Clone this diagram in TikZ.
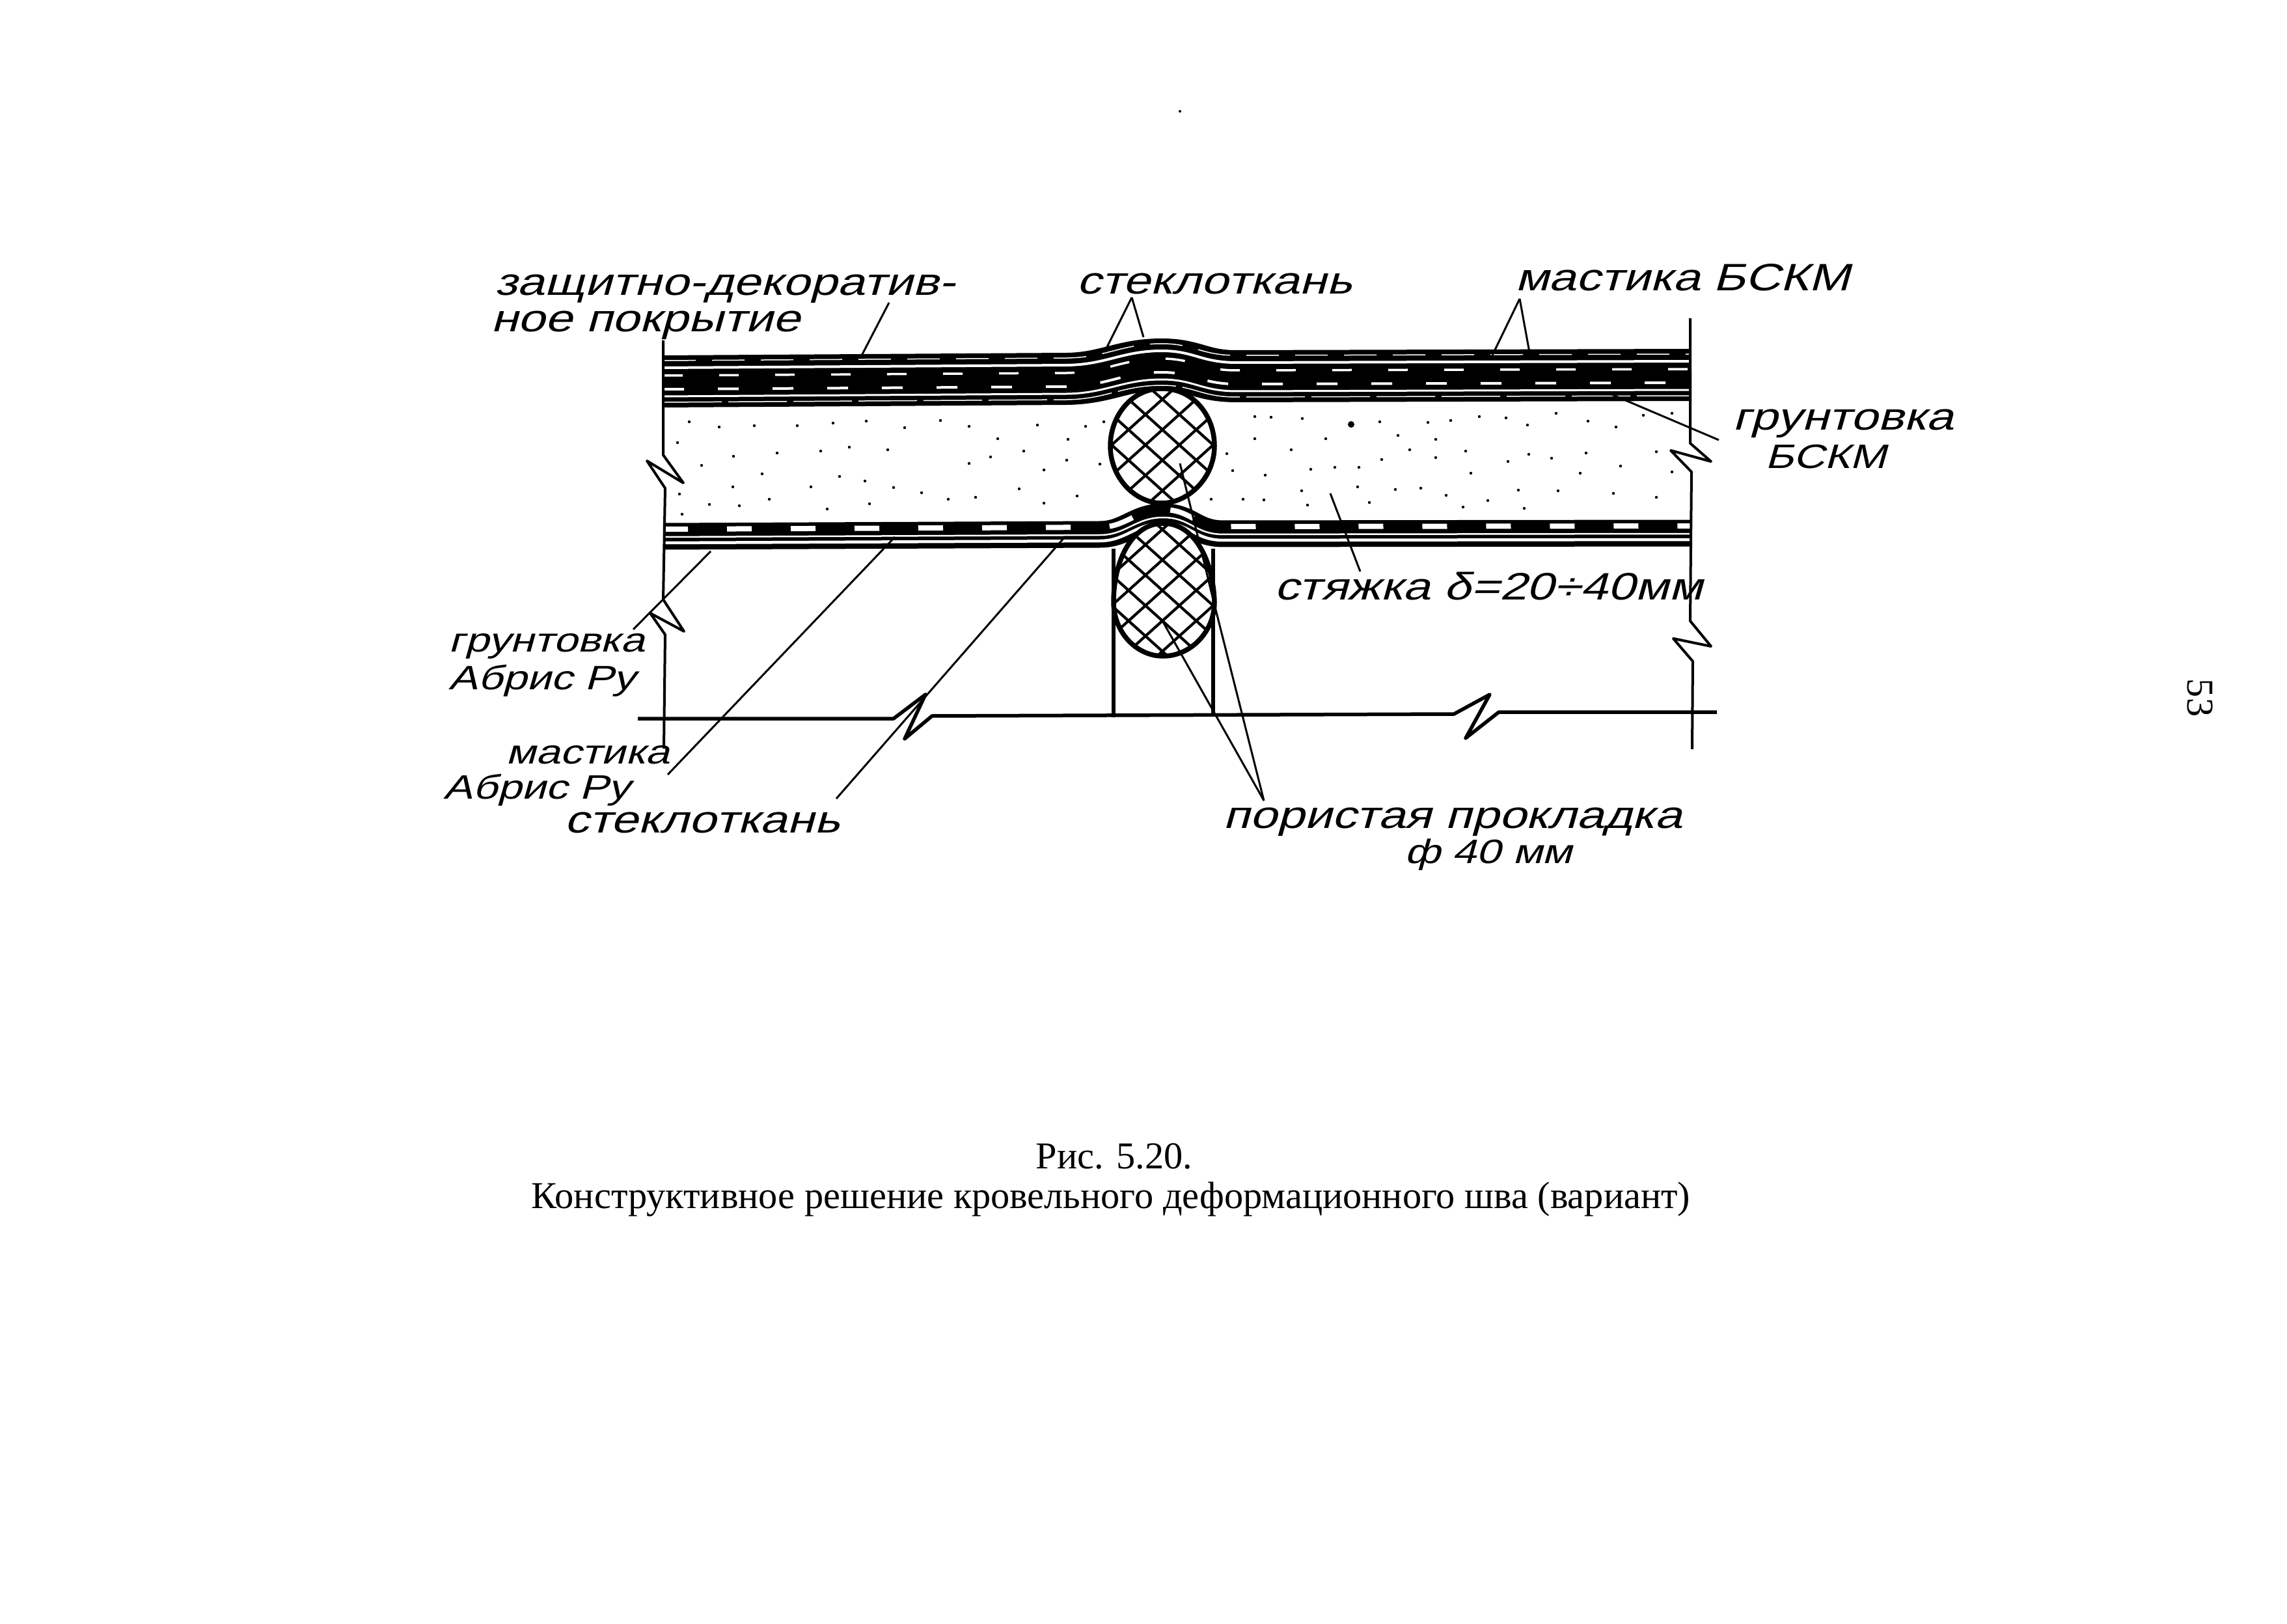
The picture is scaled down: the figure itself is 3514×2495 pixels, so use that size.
\documentclass[tikz,border=0pt]{standalone}
\usepackage{fontspec}
\setmainfont{Liberation Serif}
\newfontfamily\handfont[FakeSlant=0.28,FakeStretch=1.28]{Liberation Sans}

\newcommand{\topcourse}[1]{(1019,{546+#1}) -- (1640,{542+#1}) .. controls (1700,{541+#1}) and (1725,{520+#1}) .. (1785,{520+#1}) .. controls (1835,{520+#1}) and (1845,{538+#1}) .. (1900,{538+#1}) -- (2599,{536+#1})}
\newcommand{\lowcourse}[1]{(1019,{804+#1}) -- (1690,{801+#1}) .. controls (1730,{801+#1}) and (1745,{774+#1}) .. (1787,{774+#1}) .. controls (1830,{774+#1}) and (1835,{800+#1}) .. (1880,{800+#1}) -- (2599,{799+#1})}
\newcommand{\upperoval}{(1785,597) .. controls (1835,597) and (1866,640) .. (1866,685) .. controls (1866,735) and (1825,773) .. (1785,773) .. controls (1745,773) and (1706,735) .. (1706,685) .. controls (1706,640) and (1738,597) .. cycle}
\newcommand{\loweroval}{(1787,804) .. controls (1835,804) and (1864,860) .. (1866,925) .. controls (1866,970) and (1830,1008) .. (1787,1008) .. controls (1745,1008) and (1711,970) .. (1711,925) .. controls (1711,860) and (1740,804) .. cycle}

\tikzset{
  wall/.style={line width=.4mm, line join=round},
  base/.style={line width=.55mm, line join=round},
  netting/.style={line width=.42mm},
  gasket/.style={line width=.75mm, fill=white},
  leader/.style={line width=.3mm},
  hand/.style={font=\handfont\fontsize{16.7}{16.7}\selectfont, inner sep=0pt},
  handsmall/.style={font=\handfont\fontsize{14.8}{14.8}\selectfont},
}

\begin{document}
\begin{tikzpicture}[x=.1mm,y=-.1mm]
        \useasboundingbox (0,0) rectangle (3514,2495);

        \fill (1813,171) circle (.2mm);

        % screed
        \foreach \dotx/\doty in {1059/648,1105/656,1159/654,1225/654,1280/650,1331/647,1390/657,1445/646,1489/655,1594/653,1668/655,1696/648,
          1041/680,1127/701,1194/696,1261/693,1305/687,1364/691,1533/674,1641/675,1078/715,1171/728,1290/732,1329/739,1489/712,1522/702,
          1573/693,1639/707,1604/722,1690/713,1044/759,1126/748,1246/748,1373/749,1416/757,1566/751,1655/762,1090/775,1136/777,1182/767,
          1271/782,1336/774,1457/767,1499/764,1604/773,1048/790,1928/640,1953/641,2001/643,2120/648,2194/649,2229/646,2273/640,2314/642,
          2391/635,2440/647,2347/653,2483/656,2525/638,2569/635,1928/674,2037/674,2148/669,2206/675,1984/691,2166/691,2252/693,2437/696,
          2545/694,2349/698,1885/697,2123/706,2206/703,2317/709,2384/704,2490/716,1894/723,1944/730,2014/721,2051/718,2088/718,2260/727,
          2428/727,2569/725,2000/754,2086/748,2144/752,2183/750,2222/761,2333/753,2394/754,2479/758,2545/764,1861/767,1910/767,1942/768,
          2009/776,2104/772,2286/769,2248/779,2342/781}
          \fill (\dotx,\doty) circle (.22mm);
        \fill (2076,652) circle (.5mm);

        % upper courses
        \draw[line width=8mm] \topcourse{40};
        \draw[white,line width=.15mm,dash pattern=on 5mm off 2.5mm] \topcourse{8};
        \draw[white,line width=.4mm] \topcourse{19};
        \draw[white,line width=.3mm] \topcourse{63};
        \draw[white,line width=.15mm,dash pattern=on 9mm off 1mm] \topcourse{72};
        \draw[white,line width=.35mm,dash pattern=on 3mm off 5.6mm] \topcourse{31};
        \draw[white,line width=.4mm,dash pattern=on 3.2mm off 5.2mm] \topcourse{52};

        % lower courses
        \draw[line width=4.1mm] \lowcourse{20};
        \draw[white,line width=.8mm,dash pattern=on 3.8mm off 6mm] \lowcourse{9};
        \draw[white,line width=.25mm] \lowcourse{21};
        \draw[white,line width=.45mm] \lowcourse{30};

        % walls and base line
        \draw[wall] (1019,523) -- (1019,699) -- (1050,742) -- (994,708) -- (1022,750) -- (1019,921) -- (1051,970) -- (999,942) -- (1022,975) -- (1020,1150);
        \draw[wall] (2597,489) -- (2597,681) -- (2629,709) -- (2567,692) -- (2599,725) -- (2597,954) -- (2629,993) -- (2571,981) -- (2601,1016) -- (2600,1151);
        \draw[base] (980,1104) -- (1373,1104) -- (1422,1067) -- (1390,1135) -- (1432,1100) -- (2234,1097) -- (2289,1067) -- (2252,1134) -- (2303,1094) -- (2638,1094);
        \draw[base] (1711,843) -- (1711,1102);
        \draw[base] (1864,843) -- (1864,1098);

        % gaskets
        \draw[gasket] \upperoval;
        \draw[gasket] \loweroval;
        \begin{scope}
          \clip \upperoval;
          \foreach \step in {-6,...,15} {
            \draw[netting] ({1500+52*\step},590) -- ++(300,270);
            \draw[netting] ({1500+52*\step},590) -- ++(-300,270);
          }
        \end{scope}
        \begin{scope}
          \clip \loweroval;
          \foreach \step in {-6,...,15} {
            \draw[netting] ({1500+52*\step},790) -- ++(300,270);
            \draw[netting] ({1500+52*\step},790) -- ++(-300,270);
          }
        \end{scope}

        \begin{scope}[every node/.style={hand}]
          \node (coat1)  at (1114,444) {защитно-декоратив-};
          \node (coat2)  at (992,500)  {ное покрытие};
          \node (cloth)  at (1866,436) {стеклоткань};
          \node (bckm)   at (2585,426) {мастика БСКМ};
          \node (prim1)  at (2832,651) {грунтовка};
          \node[handsmall] (prim2)  at (2805,702) {БСКМ};
          \node (screed) at (2287,901) {стяжка δ=20÷40мм};
          \node[handsmall] (abr1)   at (840,993)  {грунтовка};
          \node[handsmall] (abr2)   at (833,1046) {Абрис Ру};
          \node[handsmall] (mast1)  at (903,1160) {мастика};
          \node[handsmall] (mast2)  at (825,1214) {Абрис Ру};
          \node (lcloth) at (1079,1264) {стеклоткань};
          \node (pad1)   at (2232,1263) {пористая прокладка};
          \node[handsmall] (pad2)   at (2287,1313) {ф 40 мм};
        \end{scope}

        \begin{scope}[every node/.style={font=\fontsize{16.6}{16.6}\selectfont, inner sep=0pt}]
          \node (fig)   at (1712,1777) {Рис. 5.20.};
          \node (title) at (1707,1843) {Конструктивное решение кровельного деформационного шва (вариант)};
          \node[rotate=-90] (page) at (3381,1072) {53};
        \end{scope}

        \coordinate (c1) at (1366,465);
        \coordinate (c2) at (1324,546);
        \coordinate (c3) at (1739,457);
        \coordinate (c4) at (1697,541);
        \coordinate (c5) at (1757,518);
        \coordinate (c6) at (2335,459);
        \coordinate (c7) at (2290,552);
        \coordinate (c8) at (2352,552);
        \coordinate (c9) at (2474,605);
        \coordinate (c10) at (2641,676);
        \coordinate (c11) at (1092,847);
        \coordinate (c12) at (973,967);
        \coordinate (c13) at (1375,825);
        \coordinate (c14) at (1026,1190);
        \coordinate (c15) at (1636,825);
        \coordinate (c16) at (1285,1227);
        \coordinate (c17) at (2044,758);
        \coordinate (c18) at (2090,878);
        \coordinate (c19) at (1942,1230);
        \coordinate (c20) at (1785,952);
        \coordinate (c21) at (1864,921);
        \coordinate (c22) at (1813,712);

        \begin{scope}[every edge/.style={draw,leader}]
          \path (c1) edge (c2);
          \path (c3) edge (c4);
          \path (c3) edge (c5);
          \path (c6) edge (c7);
          \path (c6) edge (c8);
          \path (c9) edge (c10);
          \path (c11) edge (c12);
          \path (c13) edge (c14);
          \path (c15) edge (c16);
          \path (c17) edge (c18);
          \path (c19) edge (c20);
          \path (c19) edge (c21);
          \path (c21) edge (c22);
        \end{scope}

      \end{tikzpicture}
\end{document}
